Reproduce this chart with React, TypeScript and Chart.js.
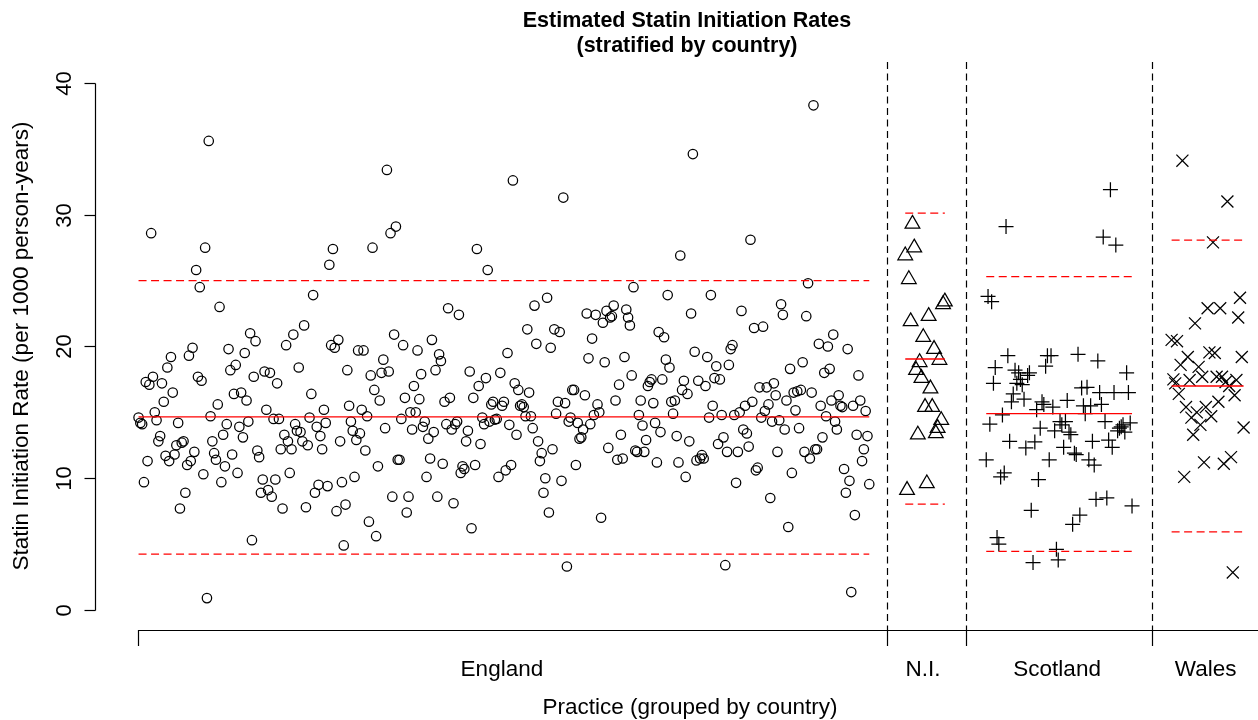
import React, { useEffect, useRef } from 'react';
import { Chart, registerables } from 'chart.js';

Chart.register(...registerables);

const FONT = '"Liberation Sans", Arial, Helvetica, sans-serif';

const countryNames = ['England', 'N.I.', 'Scotland', 'Wales'];

const englandRates = [
  14.6, 14.2, 14.1, 9.7, 17.3, 11.3, 17.1, 28.6, 17.7, 15.0,
  14.4, 12.8, 13.2, 17.2, 15.8, 11.7, 18.4, 11.3, 19.2, 16.5,
  11.8, 12.5, 14.2, 7.7, 12.7, 12.8, 8.9, 11.0, 19.3, 11.3,
  19.9, 12.0, 25.8, 17.7, 24.5, 17.4, 10.3, 27.5, 0.9, 35.6,
  14.7, 12.8, 11.9, 11.4, 15.6, 23.0, 9.7, 13.3, 10.9, 14.1,
  19.8, 18.2, 11.8, 16.4, 18.6, 10.4, 13.9, 16.5, 13.1, 19.5,
  15.9, 14.3, 21.0, 5.3, 17.7, 20.4, 12.1, 11.6,
  8.9, 9.9, 18.1, 15.2, 9.1, 18.0, 8.6, 14.5, 9.9, 17.2,
  14.5, 12.2, 7.7, 13.3, 20.1, 12.8, 10.4, 12.2, 20.9, 14.1,
  13.6, 18.4, 13.5, 12.8, 21.6, 7.8, 12.5, 14.6, 16.4, 23.9,
  8.9, 13.9, 9.5, 13.2, 12.2, 15.2, 14.2, 9.4, 26.2, 20.1,
  27.4, 19.9, 7.5, 20.5, 12.8, 9.7, 4.9, 8.0, 18.2, 15.5,
  14.3, 13.6, 10.1, 12.9, 19.7, 13.4, 15.2, 19.7, 12.1, 14.7,
  6.7, 17.8, 27.5, 16.7, 5.6, 10.9, 15.9, 18.0, 19.0, 13.8,
  33.4, 18.1, 28.6, 8.6, 20.9, 29.1, 11.4, 11.4, 14.5, 20.1,
  16.1, 7.4, 8.6, 15.0, 13.7, 17.0, 15.0, 19.7, 16.0, 17.9,
  13.9, 14.3, 10.1, 13.0, 11.5, 20.5, 13.5, 18.2, 8.6, 19.4,
  18.9, 11.1, 15.8, 14.1, 22.9, 16.1, 13.7, 8.1, 14.1, 14.3,
  22.4, 10.4, 10.9, 10.7, 12.8, 13.6, 18.1, 6.2, 16.1, 11.0,
  27.4, 17.0, 12.6, 14.6, 14.1, 17.6, 25.8, 14.3, 15.6, 15.8,
  14.45, 14.5, 10.1, 18.0, 15.5, 15.8, 10.6, 19.5, 14.05,
  11.0, 32.6, 17.2, 13.3, 16.7, 15.5, 15.6, 15.4, 14.7, 21.3,
  16.5, 14.7, 13.8, 23.1, 20.2, 12.8, 11.3, 11.9, 8.9, 10.0,
  23.7, 7.4, 19.9, 12.2, 21.3, 14.9, 15.8, 21.1, 9.8, 31.3,
  15.7, 3.3, 14.3, 14.6, 16.7, 16.7, 11.0, 14.2, 13.0, 13.1,
  13.7, 16.3, 22.5, 19.1, 14.1, 20.6, 14.8, 22.4, 15.6, 15.0,
  7.0, 21.8, 18.8, 22.7, 12.3, 22.2, 22.3, 23.1, 15.9, 11.4,
  17.1, 13.3, 11.5, 19.2, 22.8, 22.2, 21.6, 17.8, 24.5, 12.1,
  12.0, 14.8, 15.9, 14.0, 12.0, 12.9, 17.0, 17.3, 17.5, 15.7,
  14.2, 11.2, 21.1, 13.5, 17.5, 20.7, 19.0, 23.9, 18.4, 15.8,
  14.9, 15.9, 13.2, 11.2, 26.9, 16.7, 17.4, 10.1, 16.4, 12.8,
  22.5, 34.6, 19.6, 11.35, 17.4, 11.5, 11.75, 11.5, 17.0, 19.2,
  14.6, 23.9, 15.5, 17.6, 18.5, 12.6, 17.5, 14.8, 13.1, 3.4,
  12.0, 18.6, 19.8, 20.1, 14.8, 9.65, 12.0, 15.0, 22.7, 13.7,
  15.5, 13.4, 12.4, 28.1, 15.8, 21.4, 10.6, 10.8, 16.9, 14.6,
  21.5, 15.1, 16.9, 15.6, 8.5, 14.3, 17.2, 16.3, 12.0, 14.4,
  23.2, 22.4, 13.7, 15.9, 6.3, 18.3, 10.4, 16.5, 15.15, 16.6,
  13.8, 16.7, 18.8, 12.0, 22.3, 24.8, 11.5, 16.5, 38.3, 12.2,
  12.2, 20.2, 15.5, 13.1, 18.0, 14.7, 20.0, 18.3, 15.9, 20.9,
  14.3, 13.7, 16.3, 15.5, 15.4, 10.7, 8.9, 19.8, 9.8, 1.36,
  15.5, 7.2, 13.3, 17.8, 15.9, 11.3, 12.2, 15.1, 13.2, 9.55,
];

const niRates = [
  26.9, 9.1, 25.1, 21.9, 29.3, 27.5, 18.2, 13.3, 18.8, 17.6,
  20.7, 15.4, 9.6, 22.3, 16.8, 15.4, 19.8, 13.4, 13.8, 18.97,
  14.4, 23.2, 23.4,
];

const scotlandRates = [
  11.4, 23.8, 14.1, 23.4, 17.2, 18.4, 5.5, 5.0, 10.1, 14.8,
  10.4, 29.1, 19.3, 12.8, 15.8, 16.4, 18.2, 17.2, 18.0, 17.5,
  17.1, 16.0, 12.3, 17.8, 18.0, 7.56, 3.6, 12.75, 15.2, 9.9,
  13.8, 15.8, 15.6, 18.5, 19.3, 11.4, 19.3, 15.4, 13.6, 4.6,
  3.8, 14.3, 14.05, 12.35, 14.3, 15.9, 13.5, 13.3, 6.5, 11.9,
  11.8, 19.4, 7.2, 16.85, 15.5, 14.9, 16.9, 11.4, 15.5, 12.8,
  11.0, 8.4, 18.9, 16.5, 15.6, 28.3, 14.3, 8.5, 12.9, 31.9,
  12.35, 16.5, 27.7, 13.6, 13.8, 13.9, 14.05, 13.5, 18.0, 16.5,
  14.2, 7.9,
];

const walesRates = [
  20.5, 17.5, 17.2, 20.4, 16.4, 18.6, 34.1, 10.1, 15.4, 19.2,
  17.45, 14.6, 13.3, 21.75, 15.0, 18.45, 14.05, 17.7, 11.2, 15.4,
  22.9, 19.55, 14.7, 27.9, 19.5, 17.7, 15.8, 22.9, 17.7, 11.1,
  17.3, 31.0, 17.0, 11.6, 2.85, 16.3, 17.45, 22.2, 23.7, 19.2,
  13.85,
];

const countryMeans = [14.65, 19.05, 14.9, 17.0];
const upperLimits = [25.0, 30.12, 25.3, 28.07];
const lowerLimits = [4.24, 8.03, 4.45, 5.93];

const yTickValues = [0, 10, 20, 30, 40];
const groupGaps = [20, 23, 22];

const titleLines = ['Estimated Statin Initiation Rates', '(stratified by country)'];
const xAxisTitle = 'Practice (grouped by country)';
const yAxisTitle = 'Statin Initiation Rate (per 1000 person-years)';

const pointStyles = ['circle', 'triangle', 'cross', 'crossRot'];
const pointRadii = [4.7, 8.5, 7.5, 8.5];

const X_MIN = -24.2;
const X_MAX = 622;
const Y_MIN = -1.52;
const Y_MAX = 41.59;

export default function App() {
  const canvasRef = useRef<HTMLCanvasElement | null>(null);

  useEffect(() => {
    const canvas = canvasRef.current;
    if (!canvas) return;
    const groups = [englandRates, niRates, scotlandRates, walesRates];
    const starts: number[] = [];
    let s = 0;
    groups.forEach((g, i) => {
      starts.push(s);
      s += g.length - 1 + (groupGaps[i] ?? 0);
    });
    const ends = groups.map((g, i) => starts[i] + g.length - 1);
    const separators = groupGaps.map((_, i) => (ends[i] + starts[i + 1]) / 2);

    const scatterSets: any[] = groups.map((g, i) => ({
      type: 'scatter',
      label: countryNames[i],
      data: g.map((v, j) => ({ x: starts[i] + j, y: v })),
      pointStyle: pointStyles[i],
      pointRadius: pointRadii[i],
      pointBorderWidth: 1.25,
      pointBorderColor: '#000',
      pointBackgroundColor: 'rgba(0,0,0,0)',
      borderColor: '#000',
      backgroundColor: 'rgba(0,0,0,0)',
      showLine: false,
      clip: false,
      order: 2,
    }));

    const refLine = (i: number, v: number, dash: number[]) => ({
      type: 'line',
      label: countryNames[i] + ' ref',
      data: [
        { x: starts[i], y: v },
        { x: ends[i], y: v },
      ],
      borderColor: '#ff0000',
      borderWidth: 1.3,
      borderDash: dash,
      pointRadius: 0,
      fill: false,
      tension: 0,
      order: 1,
    });

    const lineSets: any[] = [];
    groups.forEach((_, i) => {
      lineSets.push(refLine(i, countryMeans[i], []));
      lineSets.push(refLine(i, upperLimits[i], [8, 4.5]));
      lineSets.push(refLine(i, lowerLimits[i], [8, 4.5]));
    });

    const decor = {
      id: 'decor',
      afterDraw(chart: any) {
        const { ctx, chartArea } = chart;
        const xs = chart.scales.x;
        const ys = chart.scales.y;
        const axisY = chartArea.bottom;
        ctx.save();
        ctx.strokeStyle = '#000';
        ctx.lineWidth = 1.2;
        // separators
        ctx.setLineDash([7, 4.5]);
        separators.forEach((sv) => {
          const px = Math.round(xs.getPixelForValue(sv)) + 0.5;
          ctx.beginPath();
          ctx.moveTo(px, chartArea.top);
          ctx.lineTo(px, axisY);
          ctx.stroke();
        });
        ctx.setLineDash([]);
        // x axis
        const x0 = Math.round(xs.getPixelForValue(starts[0])) - 0.5;
        ctx.beginPath();
        ctx.moveTo(x0, axisY + 0.5);
        ctx.lineTo(chartArea.right, axisY + 0.5);
        ctx.stroke();
        [starts[0], ...separators].forEach((tv, k) => {
          const px = k === 0 ? x0 : Math.round(xs.getPixelForValue(tv)) + 0.5;
          ctx.beginPath();
          ctx.moveTo(px, axisY);
          ctx.lineTo(px, axisY + 16);
          ctx.stroke();
        });
        // y axis
        const ax = chartArea.left + 0.5;
        ctx.beginPath();
        ctx.moveTo(ax, Math.round(ys.getPixelForValue(yTickValues[0])) + 0.5);
        ctx.lineTo(ax, Math.round(ys.getPixelForValue(yTickValues[yTickValues.length - 1])) + 0.5);
        ctx.stroke();
        ctx.fillStyle = '#000';
        ctx.font = `22px ${FONT}`;
        ctx.textAlign = 'center';
        ctx.textBaseline = 'middle';
        yTickValues.forEach((tv) => {
          const py = Math.round(ys.getPixelForValue(tv)) + 0.5;
          ctx.beginPath();
          ctx.moveTo(ax, py);
          ctx.lineTo(ax - 11, py);
          ctx.stroke();
          ctx.save();
          ctx.translate(65, py);
          ctx.rotate(-Math.PI / 2);
          ctx.fillText(String(tv), 0, 0);
          ctx.restore();
        });
        // y title
        ctx.save();
        ctx.font = `22.5px ${FONT}`;
        ctx.translate(22, (chartArea.top + chartArea.bottom) / 2);
        ctx.rotate(-Math.PI / 2);
        ctx.fillText(yAxisTitle, 0, 0);
        ctx.restore();
        // country labels
        ctx.font = `22.5px ${FONT}`;
        groups.forEach((_, i) => {
          const mid = (xs.getPixelForValue(starts[i]) + xs.getPixelForValue(ends[i])) / 2;
          ctx.fillText(countryNames[i], mid - 2, 670);
        });
        ctx.fillText(xAxisTitle, 690, 708);
        // title
        ctx.font = `bold 21.5px ${FONT}`;
        ctx.fillText(titleLines[0], 687, 21);
        ctx.fillText(titleLines[1], 687, 46);
        ctx.restore();
      },
    };

    const chart = new Chart(canvas, {
      type: 'scatter',
      data: { datasets: [...scatterSets, ...lineSets] },
      options: {
        animation: false,
        responsive: false,
        events: [],
        layout: { autoPadding: false, padding: { left: 95, top: 62, right: 0, bottom: 90 } },
        plugins: {
          legend: { display: false },
          tooltip: { enabled: false },
          title: { display: false },
        },
        scales: {
          x: { type: 'linear', display: false, min: X_MIN, max: X_MAX },
          y: { type: 'linear', display: false, min: Y_MIN, max: Y_MAX },
        },
      } as any,
      plugins: [decor],
    } as any);

    return () => chart.destroy();
  }, []);

  return (
    <div style={{ position: 'fixed', left: 0, top: 0, width: 1258, height: 720, background: '#fff' }}>
      <canvas ref={canvasRef} width={1258} height={720} style={{ display: 'block' }} />
    </div>
  );
}
